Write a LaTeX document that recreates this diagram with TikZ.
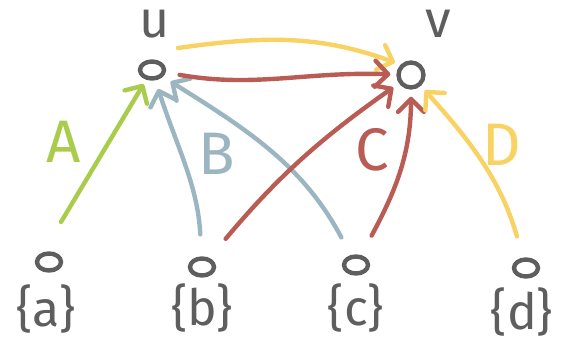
\documentclass[tikz,border=0pt]{standalone}
\usepackage{fontspec}
\setmainfont{Fira Sans}
\usetikzlibrary{arrows.meta,shapes.geometric}
\definecolor{cgray}{HTML}{5E5E5E}
\definecolor{cgreen}{HTML}{A9CC4C}
\definecolor{cblue}{HTML}{9BB6C0}
\definecolor{cred}{HTML}{B95C54}
\definecolor{cyellow}{HTML}{F8D262}
\begin{document}
\begin{tikzpicture}[x=1pt,y=-1pt,
  lw/.style={line width=4.4pt, line cap=round, line join=round,
    -{Straight Barb[length=13pt,width=26pt,round]}},
  dot/.style={draw=cgray, line width=4.4pt, ellipse, minimum width=24pt, minimum height=17pt, inner sep=0pt},
  vdot/.style={draw=cgray, line width=4.4pt, circle, minimum size=25pt, inner sep=0pt},
  lab/.style={text=cgray, font=\fontsize{52}{52}\selectfont, inner sep=0pt},
  setlab/.style={text=cgray, font=\fontsize{50}{50}\selectfont, inner sep=0pt},
  elab/.style={font=\fontsize{60}{60}\selectfont, inner sep=0pt}]
\useasboundingbox (0,0) rectangle (566,342);
% nodes
\node[dot] (u) at (152,70) {};
\node[vdot] (v) at (411,75) {};
\node[dot] (a) at (49,262) {};
\node[dot] (b) at (202,267) {};
\node[dot] (c) at (356,265) {};
\node[dot] (d) at (526,268) {};
% labels
\node[lab, anchor=base] (lu) at (155,38) {u};
\node[lab, anchor=base] (lv) at (438,38) {v};
\node[setlab] (la) at (46,309) {\{a\}};
\node[setlab] (lb) at (202,308) {\{b\}};
\node[setlab] (lc) at (356,308) {\{c\}};
\node[setlab] (ld) at (522,312) {\{d\}};
% edges
\coordinate (ga) at (61,222);
\draw[lw, cgreen, shorten >=5pt] (ga) -- (u);
\draw[lw, cblue, shorten <=22pt, shorten >=9pt] (b) to[out=93, in=-72] (u);
\draw[lw, cblue, shorten <=20pt, shorten >=9pt] (c) to[out=118, in=-32] (u);
\draw[lw, cred, shorten <=25pt, shorten >=7pt] (b) to[out=50, in=-145] (v);
\draw[lw, cred, shorten <=22pt, shorten >=7pt] (c) to[out=62, in=-90] (v);
\draw[lw, cyellow, shorten <=22pt, shorten >=6pt] (d) to[out=106, in=-48] (v);
\coordinate (uy) at (178,48);
\draw[lw, cyellow, shorten >=6pt] (uy) to[out=8, in=160] (v.north west);
\draw[lw, cred, shorten <=14pt, shorten >=6pt] (u) to[out=-10, in=178] (v);
% edge labels
\node[elab, text=cgreen] (eA) at (64,142) {A};
\node[elab, text=cblue] (eB) at (217,154) {B};
\node[elab, text=cred] (eC) at (372,150) {C};
\node[elab, text=cyellow] (eD) at (502,145) {D};
\end{tikzpicture}
\end{document}
